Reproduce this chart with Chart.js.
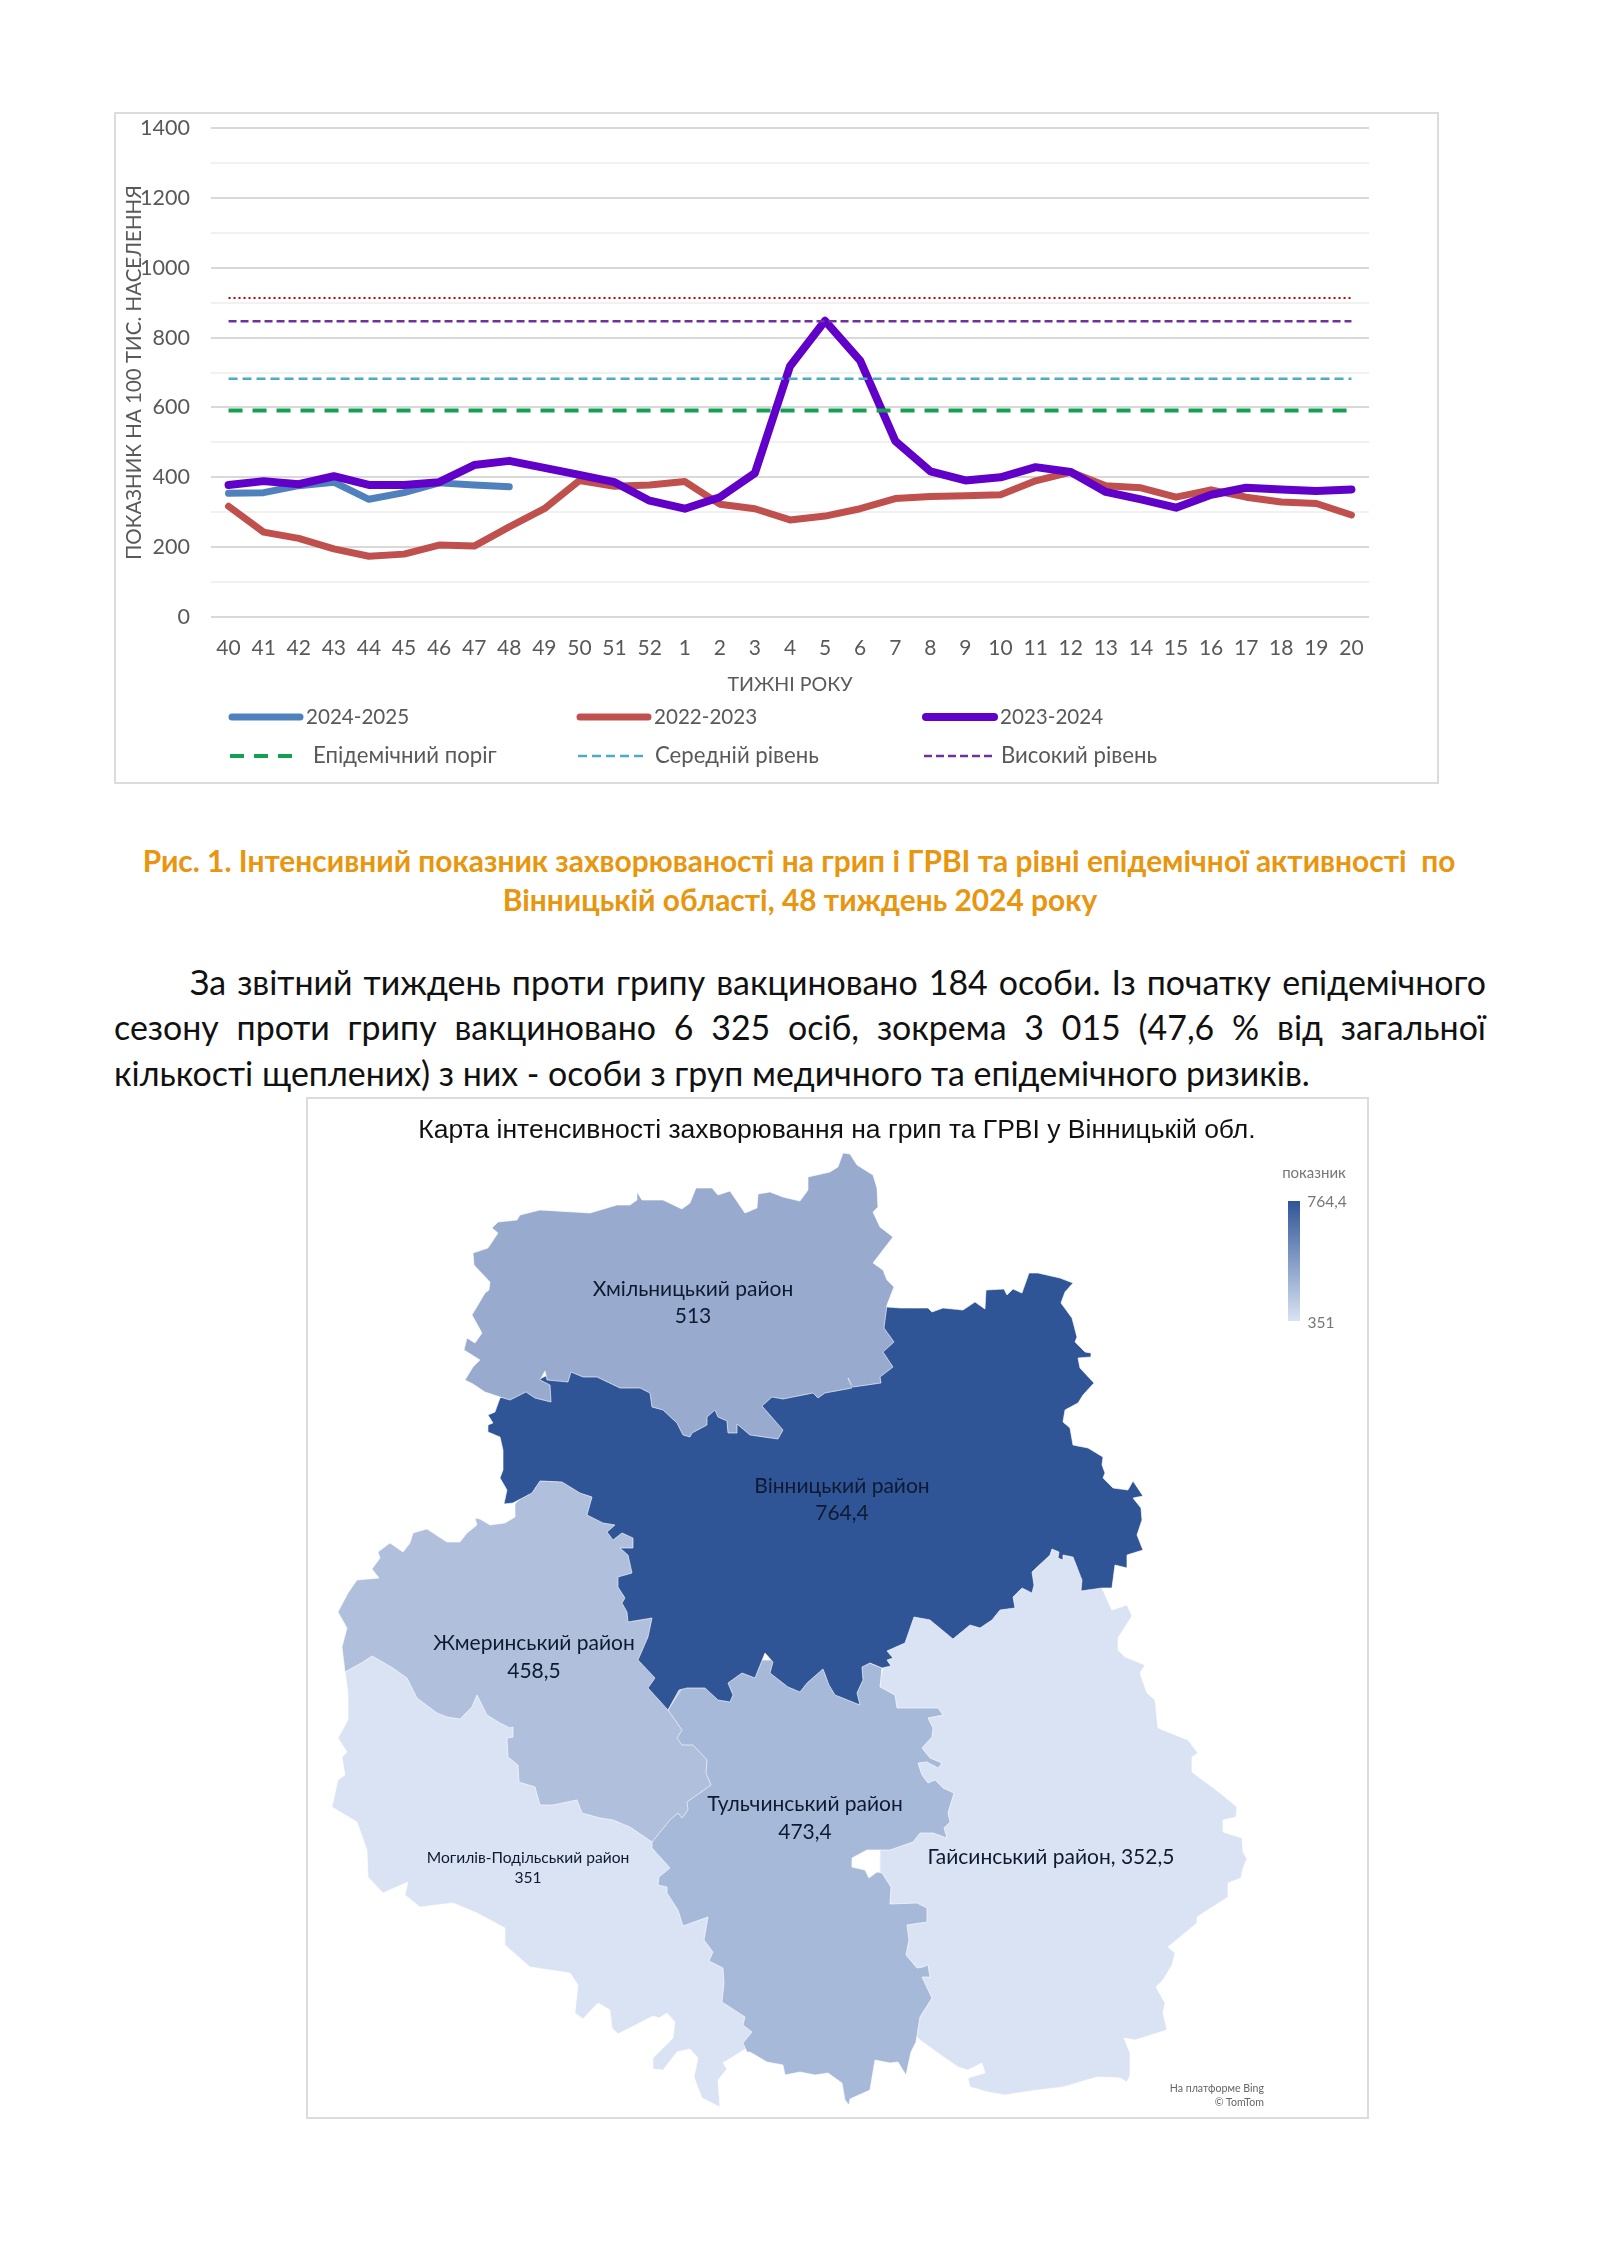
<!DOCTYPE html>
<html lang="uk">
<head>
<meta charset="utf-8">
<title>Грип та ГРВІ, Вінницька область</title>
<script src="https://cdn.jsdelivr.net/npm/chart.js@4/dist/chart.umd.min.js"></script>
<style>
  html, body { margin: 0; background: #fff; }
  body { position: relative; width: 1600px; height: 2262px; overflow: hidden; font-family: Lato, sans-serif; }
  .box { position: absolute; box-sizing: border-box; border: 2px solid #dcdcdc; }
  .box canvas { position: absolute; left: 0; top: 0; }
  .t { position: absolute; white-space: pre; line-height: 1; transform: translate(-50%, -50%); }
  .r { transform: translate(-100%, -50%); }
  .caption { font-weight: 700; font-size: 29.9px; color: #e8960f; }
  .body { position: absolute; left: 114px; width: 1372px; font-size: 33.9px; line-height: 1; color: #111; white-space: nowrap; }
  .just { white-space: normal; text-align: justify; text-align-last: justify; }
  .region { color: #0e1a30; font-size: 21px; }
  #scaleBar { position: absolute; left: 1288px; top: 1201px; width: 12px; height: 120px; background: linear-gradient(#2f5597, #d9e3f3); }
</style>
</head>
<body>

<div class="box" style="left:114px;top:112px;width:1325px;height:672px"><canvas id="fluChart" width="1321" height="668"></canvas></div>

<div class="t caption" style="left:799px;top:861px">Рис. 1. Інтенсивний показник захворюваності на грип і ГРВІ та рівні епідемічної активності  по</div>
<div class="t caption" style="left:800px;top:900px">Вінницькій області, 48 тиждень 2024 року</div>

<div class="body just" style="top:966px;left:190px;width:1296px">За звітний тиждень проти грипу вакциновано 184 особи. Із початку епідемічного</div>
<div class="body just" style="top:1011px">сезону проти грипу вакциновано 6 325 осіб, зокрема 3 015 (47,6 % від загальної</div>
<div class="body" style="top:1057px">кількості щеплених) з них - особи з груп медичного та епідемічного ризиків.</div>

<div class="box" style="left:306px;top:1097px;width:1063px;height:1022px"><canvas id="mapChart" width="1059" height="1018"></canvas></div>

<div class="t" style="left:837px;top:1129px;font-family:'Liberation Sans';font-size:26.5px;color:#111">Карта інтенсивності захворювання на грип та ГРВІ у Вінницькій обл.</div>
<div class="t" style="left:1314px;top:1172px;font-size:15px;color:#777">показник</div>
<div id="scaleBar"></div>
<div class="t" style="left:1327px;top:1202px;font-size:15.5px;color:#777">764,4</div>
<div class="t" style="left:1321px;top:1323px;font-size:15.5px;color:#777">351</div>

<div class="t region" style="left:693px;top:1287px">Хмільницький район</div>
<div class="t region" style="left:693px;top:1314px">513</div>
<div class="t region" style="left:842px;top:1484px">Вінницький район</div>
<div class="t region" style="left:842px;top:1511px">764,4</div>
<div class="t region" style="left:534px;top:1641px">Жмеринський район</div>
<div class="t region" style="left:534px;top:1669px">458,5</div>
<div class="t region" style="left:805px;top:1802px">Тульчинський район</div>
<div class="t region" style="left:805px;top:1830px">473,4</div>
<div class="t region" style="left:528px;top:1858px;font-size:15.6px">Могилів-Подільський район</div>
<div class="t region" style="left:528px;top:1878px;font-size:15.6px">351</div>
<div class="t region" style="left:1051px;top:1855px">Гайсинський район, 352,5</div>
<div class="t r" style="left:1264px;top:2088px;font-size:10.6px;color:#666">На платформе Bing</div>
<div class="t r" style="left:1264px;top:2102px;font-size:10.6px;color:#666">© TomTom</div>

<script>
const weeks = ['40','41','42','43','44','45','46','47','48','49','50','51','52','1','2','3','4','5','6','7','8','9','10','11','12','13','14','15','16','17','18','19','20'];
const season2425 = [354,356,376,386,337,356,384,378,373];
const season2223 = [317,243,225,195,174,180,206,203,258,310,391,374,378,388,323,310,278,289,310,339,345,347,350,390,415,376,370,343,364,343,329,325,292];
const season2324 = [378,389,380,403,378,378,386,435,447,427,407,386,333,310,343,412,718,848,734,504,417,391,400,429,415,358,337,313,350,370,365,361,365];
const epidemicLevel = [591,591,591,591,591,591,591,591,591,591,591,591,591,591,591,591,591,591,591,591,591,591,591,591,591,591,591,591,591,591,591,591,591];
const mediumLevel = [682,682,682,682,682,682,682,682,682,682,682,682,682,682,682,682,682,682,682,682,682,682,682,682,682,682,682,682,682,682,682,682,682];
const highLevel = [847,847,847,847,847,847,847,847,847,847,847,847,847,847,847,847,847,847,847,847,847,847,847,847,847,847,847,847,847,847,847,847,847];
const topLevel = [913,913,913,913,913,913,913,913,913,913,913,913,913,913,913,913,913,913,913,913,913,913,913,913,913,913,913,913,913,913,913,913,913];

// outlines of the districts, in map units (hidden stretches run under the neighbour drawn later)
const mohyliv = [[345,1672],[348,1693],[348,1720],[338,1738],[347,1752],[342,1757],[345,1775],[338,1780],[332,1807],[357,1822],[367,1850],[368,1877],[383,1893],[408,1882],[405,1895],[420,1907],[453,1903],[477,1913],[505,1928],[505,1945],[530,1967],[570,1973],[578,1985],[575,2013],[583,2019],[598,2003],[610,2010],[612,2028],[618,2034],[653,2016],[659,2018],[667,2013],[675,2022],[673,2038],[653,2058],[653,2069],[663,2070],[677,2052],[690,2049],[698,2058],[694,2077],[702,2098],[720,2107],[718,2080],[727,2069],[723,2063],[747,2048],[800,2000],[720,1900],[660,1830],[560,1760],[450,1640],[370,1640],[350,1665]];
const haisyn = [[1095,1570],[1102,1588],[1112,1610],[1127,1605],[1132,1616],[1118,1638],[1118,1650],[1125,1657],[1145,1665],[1140,1673],[1147,1693],[1155,1700],[1158,1728],[1188,1740],[1198,1753],[1192,1757],[1192,1772],[1220,1793],[1237,1807],[1236,1817],[1223,1820],[1223,1832],[1242,1838],[1243,1852],[1247,1859],[1243,1868],[1241,1878],[1228,1883],[1228,1897],[1197,1917],[1197,1923],[1168,1947],[1175,1953],[1172,1965],[1163,1980],[1156,1987],[1165,2003],[1163,2013],[1167,2030],[1135,2040],[1124,2038],[1130,2053],[1130,2075],[1127,2082],[1120,2078],[1097,2077],[1063,2087],[1030,2091],[1005,2095],[988,2092],[970,2087],[968,2078],[985,2073],[982,2063],[968,2070],[958,2067],[938,2053],[920,2040],[880,2000],[880,1800],[880,1680],[895,1620],[960,1580],[1040,1530],[1095,1530]];
const zhmerynka = [[515,1504],[515,1517],[505,1523],[490,1525],[480,1519],[475,1518],[477,1525],[467,1533],[460,1542],[447,1542],[427,1529],[413,1533],[410,1543],[403,1552],[390,1543],[378,1552],[380,1558],[372,1569],[379,1578],[357,1580],[348,1593],[338,1612],[347,1628],[342,1647],[345,1672],[363,1662],[372,1656],[393,1668],[407,1678],[417,1698],[437,1713],[447,1717],[460,1719],[472,1707],[477,1695],[483,1707],[487,1715],[500,1723],[510,1728],[513,1727],[513,1737],[507,1738],[508,1757],[518,1765],[519,1782],[535,1787],[540,1805],[553,1805],[577,1800],[582,1813],[600,1818],[613,1820],[630,1827],[652,1842],[720,1800],[710,1740],[690,1670],[660,1560],[600,1500],[550,1470]];
const tulchyn = [[668,1710],[682,1730],[677,1738],[682,1745],[693,1745],[707,1760],[706,1773],[711,1785],[687,1802],[688,1810],[682,1818],[678,1813],[670,1820],[652,1842],[652,1848],[670,1868],[659,1877],[658,1885],[667,1887],[667,1893],[678,1910],[683,1926],[708,1917],[704,1940],[713,1952],[709,1961],[723,1968],[724,1983],[722,2002],[745,2017],[743,2025],[752,2032],[743,2043],[747,2052],[750,2052],[767,2062],[783,2065],[785,2075],[800,2072],[815,2075],[828,2073],[842,2083],[845,2100],[849,2105],[850,2099],[870,2090],[875,2060],[890,2063],[898,2062],[906,2075],[911,2052],[916,2042],[920,2017],[932,1998],[922,1977],[930,1977],[928,1965],[923,1967],[917,1968],[906,1955],[909,1940],[907,1925],[927,1922],[927,1908],[917,1903],[890,1904],[891,1887],[882,1873],[877,1872],[869,1878],[865,1870],[852,1867],[852,1858],[867,1850],[890,1850],[913,1842],[920,1833],[933,1833],[947,1838],[944,1828],[950,1822],[948,1813],[954,1793],[943,1788],[935,1780],[928,1783],[922,1775],[918,1763],[927,1762],[938,1768],[942,1763],[930,1758],[922,1748],[932,1737],[933,1728],[928,1718],[943,1715],[938,1708],[897,1708],[895,1695],[880,1687],[882,1668],[870,1663],[800,1660],[700,1660]];
const vinnytsia = [[500,1398],[495,1412],[488,1415],[493,1423],[488,1425],[488,1432],[500,1437],[503,1450],[503,1470],[500,1478],[507,1490],[504,1504],[513,1503],[532,1493],[540,1481],[562,1482],[580,1493],[592,1497],[587,1515],[603,1523],[615,1525],[607,1532],[613,1540],[622,1533],[633,1538],[633,1548],[620,1548],[628,1555],[632,1573],[618,1577],[618,1587],[625,1598],[622,1603],[627,1612],[628,1622],[652,1618],[648,1637],[638,1660],[655,1678],[648,1688],[668,1710],[679,1690],[687,1688],[705,1688],[718,1700],[730,1702],[733,1695],[728,1683],[742,1673],[755,1678],[765,1653],[773,1662],[770,1673],[788,1687],[800,1692],[807,1683],[823,1669],[829,1685],[835,1695],[860,1705],[857,1693],[863,1680],[862,1667],[870,1663],[882,1668],[891,1666],[887,1660],[893,1658],[887,1651],[905,1643],[914,1617],[930,1620],[953,1639],[970,1625],[980,1628],[992,1620],[1000,1610],[1015,1608],[1013,1597],[1022,1588],[1032,1593],[1034,1585],[1032,1572],[1050,1555],[1052,1549],[1059,1552],[1058,1558],[1063,1560],[1063,1555],[1073,1557],[1082,1580],[1081,1591],[1102,1588],[1112,1588],[1115,1565],[1127,1568],[1127,1555],[1143,1550],[1137,1535],[1142,1520],[1141,1508],[1133,1498],[1143,1496],[1133,1481],[1128,1490],[1113,1488],[1103,1478],[1105,1473],[1102,1465],[1103,1457],[1088,1448],[1073,1445],[1070,1428],[1063,1422],[1065,1410],[1078,1403],[1083,1395],[1094,1383],[1080,1368],[1078,1358],[1091,1357],[1091,1353],[1085,1352],[1075,1342],[1077,1337],[1072,1318],[1061,1303],[1065,1292],[1073,1283],[1060,1278],[1038,1273],[1029,1273],[1022,1293],[1013,1289],[1007,1295],[1004,1289],[986,1290],[985,1309],[975,1302],[963,1310],[943,1308],[932,1312],[928,1308],[900,1308],[887,1307],[800,1340],[600,1350]];
const khmilnyk = [[473,1253],[488,1248],[498,1233],[492,1228],[498,1222],[517,1220],[520,1215],[540,1210],[590,1213],[617,1205],[630,1205],[637,1200],[637,1192],[642,1200],[663,1200],[682,1209],[690,1203],[696,1188],[712,1188],[718,1195],[730,1191],[745,1213],[757,1208],[758,1194],[770,1192],[783,1197],[800,1201],[808,1190],[808,1177],[830,1172],[838,1167],[843,1153],[850,1154],[857,1165],[873,1175],[877,1188],[878,1207],[873,1212],[880,1227],[893,1237],[873,1263],[883,1270],[887,1280],[894,1287],[887,1305],[884,1328],[894,1342],[883,1352],[893,1367],[880,1377],[881,1383],[853,1387],[848,1378],[852,1388],[825,1393],[818,1398],[813,1393],[783,1399],[772,1397],[762,1406],[783,1430],[778,1439],[750,1435],[737,1424],[737,1433],[728,1433],[727,1421],[718,1417],[715,1410],[707,1417],[707,1425],[692,1433],[690,1437],[683,1435],[677,1423],[663,1410],[652,1407],[650,1393],[640,1388],[620,1388],[597,1377],[583,1377],[571,1372],[568,1382],[547,1380],[545,1371],[540,1380],[550,1385],[551,1402],[535,1398],[526,1392],[510,1400],[500,1397],[485,1392],[473,1384],[465,1380],[473,1367],[480,1360],[464,1350],[467,1338],[475,1343],[482,1333],[472,1315],[485,1293],[489,1290],[490,1282],[474,1265]];

// plot and legend geometry are in canvas pixels
const fontName = 'Lato';
const legendX = [112, 460, 806];
const legendY = [603, 642];

const customLegend = {
  id: 'customLegend',
  afterDraw(chart) {
    const { ctx } = chart;
    chart.data.datasets.forEach((ds) => {
      if (!ds.legendSlot) return;
      const { col, row, len, textGap } = ds.legendSlot;
      const x = legendX[col], y = legendY[row];
      ctx.save();
      ctx.beginPath();
      ctx.moveTo(x + (row ? 2 : 4), y);
      ctx.lineTo(x + len - (row ? 0 : 4), y);
      ctx.strokeStyle = ds.borderColor;
      ctx.lineWidth = ds.borderWidth;
      ctx.lineCap = row ? 'butt' : 'round';
      ctx.setLineDash(ds.borderDash || []);
      ctx.stroke();
      ctx.fillStyle = '#595959';
      ctx.font = (row ? 22.2 : 20.6) + 'px ' + fontName;
      ctx.textBaseline = 'middle';
      ctx.fillText(ds.label, x + textGap, y);
      ctx.restore();
    });
  }
};

const level = (label, data, color, width, dash, slot) => ({
  label, data, borderColor: color, borderWidth: width, borderDash: dash,
  pointRadius: 0, tension: 0, fill: false, order: 0, legendSlot: slot
});
const season = (label, data, color, width, order, col) => ({
  label, data, borderColor: color, borderWidth: width,
  pointRadius: 0, tension: 0, fill: false, order,
  borderCapStyle: 'round', borderJoinStyle: 'round',
  legendSlot: { col, row: 0, len: 76, textGap: 78 }
});

new Chart(document.getElementById('fluChart').getContext('2d'), {
  type: 'line',
  data: {
    labels: weeks,
    datasets: [
      season('2024-2025', season2425, '#4f81bd', 7, 3, 0),
      season('2022-2023', season2223, '#c0504d', 7, 2, 1),
      season('2023-2024', season2324, '#6000c8', 8, 1, 2),
      level('Епідемічний поріг', epidemicLevel, '#12a150', 4, [14, 10], { col: 0, row: 1, len: 64, textGap: 85 }),
      level('Середній рівень', mediumLevel, '#4bacc6', 2.5, [9, 5], { col: 1, row: 1, len: 70, textGap: 79 }),
      level('Високий рівень', highLevel, '#7030a0', 2.5, [8, 4], { col: 2, row: 1, len: 71, textGap: 79 }),
      level('', topLevel, '#c00000', 2, [2, 3], null)
    ]
  },
  options: {
    responsive: false,
    animation: false,
    events: [],
    layout: { padding: { left: 6, right: 68, top: 14, bottom: 84 } },
    plugins: { legend: { display: false }, tooltip: { enabled: false } },
    scales: {
      y: {
        min: 0,
        max: 1400,
        afterFit: (s) => { s.width = 89; },
        border: { display: false },
        grid: {
          tickLength: 21,
          tickColor: 'transparent',
          color: (c) => (c.tick.value % 200 ? '#f1f1f1' : '#d9d9d9'),
          lineWidth: 2
        },
        ticks: {
          stepSize: 100,
          autoSkip: false,
          padding: 0, // gap comes from tickLength, a big padding here would push the plot top down
          color: '#595959',
          font: { family: fontName, size: 21.5 },
          callback: (v) => (v % 200 ? '' : String(v))
        },
        title: {
          display: true,
          text: 'ПОКАЗНИК НА 100 ТИС. НАСЕЛЕННЯ',
          color: '#595959',
          font: { family: fontName, size: 20.5 },
          padding: 0
        }
      },
      x: {
        offset: true,
        afterFit: (s) => { s.height = 81; },
        border: { display: false },
        grid: { display: false, drawTicks: false },
        ticks: {
          autoSkip: false,
          maxRotation: 0,
          padding: 19,
          color: '#595959',
          font: { family: fontName, size: 21 }
        },
        title: {
          display: true,
          text: 'ТИЖНІ РОКУ',
          color: '#595959',
          font: { family: fontName, size: 19.6 },
          padding: { top: 0, bottom: 1.5 }
        }
      }
    }
  },
  plugins: [customLegend]
});

const district = (label, outline, color) => ({
  label,
  data: outline.concat([outline[0]]).map(([x, y]) => ({ x, y })),
  showLine: true,
  fill: 'shape',
  backgroundColor: color,
  borderColor: 'rgba(255,255,255,0.65)',
  borderWidth: 1,
  pointRadius: 0,
  tension: 0.001,
  capBezierPoints: false
});

// first dataset is painted last, so the list runs from top to bottom
new Chart(document.getElementById('mapChart').getContext('2d'), {
  type: 'scatter',
  data: {
    datasets: [
      district('Хмільницький район', khmilnyk, '#98abcf'),
      district('Вінницький район', vinnytsia, '#2f5597'),
      district('Тульчинський район', tulchyn, '#a7b9d9'),
      district('Жмеринський район', zhmerynka, '#afbfdc'),
      district('Гайсинський район', haisyn, '#d9e3f3'),
      district('Могилів-Подільський район', mohyliv, '#d9e3f3')
    ]
  },
  options: {
    responsive: false,
    animation: false,
    events: [],
    plugins: { legend: { display: false }, tooltip: { enabled: false } },
    scales: {
      x: { display: false, min: 308, max: 1367 },
      y: { display: false, min: 1099, max: 2117, reverse: true }
    }
  }
});
</script>
</body>
</html>
